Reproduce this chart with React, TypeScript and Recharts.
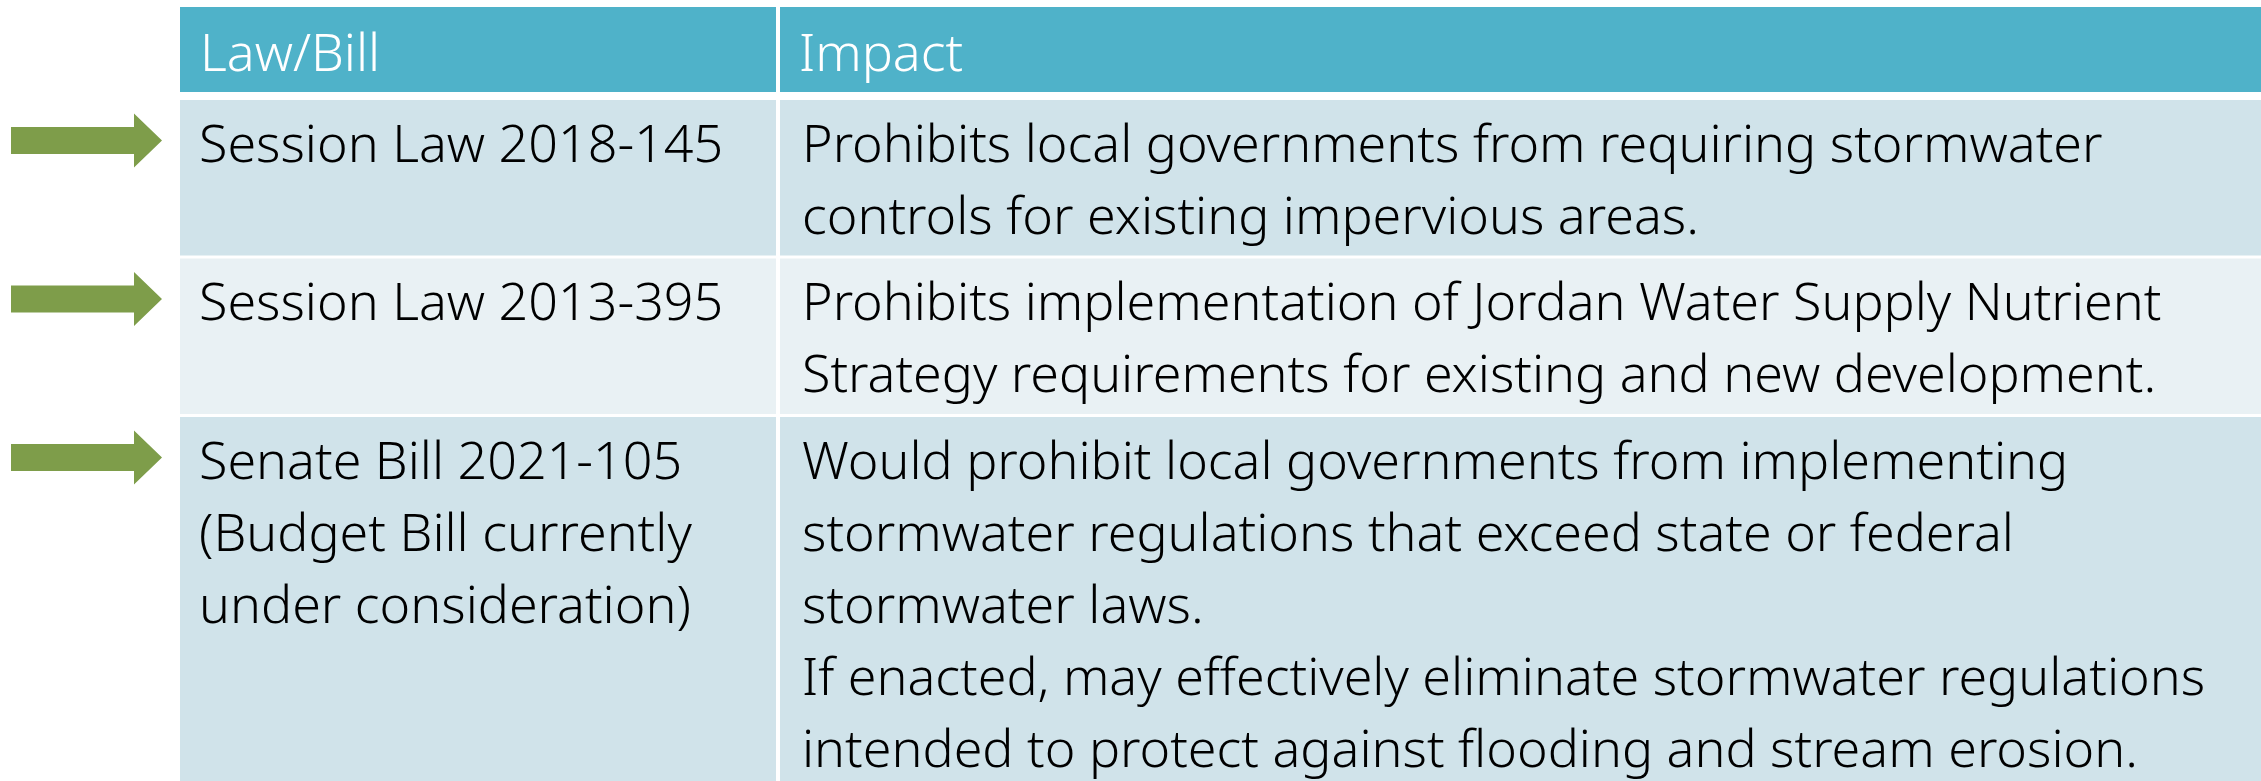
import React from 'react';
import { ComposedChart, XAxis, YAxis, ReferenceArea, Scatter } from 'recharts';

const headers = ['Law/Bill', 'Impact'];
const lawLines: string[][] = [
  ['Session Law 2018-145'],
  ['Session Law 2013-395'],
  ['Senate Bill 2021-105', '(Budget Bill currently', 'under consideration)'],
];
const impactLines: string[][] = [
  ['Prohibits local governments from requiring stormwater', 'controls for existing impervious areas.'],
  ['Prohibits implementation of Jordan Water Supply Nutrient', 'Strategy requirements for existing and new development.'],
  [
    'Would prohibit local governments from implementing',
    'stormwater regulations that exceed state or federal',
    'stormwater laws.',
    'If enacted, may effectively eliminate stormwater regulations',
    'intended to protect against flooding and stream erosion.',
  ],
];
const flagged = [true, true, true];

const W = 2261;
const H = 781;
const COL1_LEFT = 180;
const COL1_RIGHT = 776;
const COL2_LEFT = 780;
const HEADER_TOP = 7;
const HEADER_H = 85;
const HEADER_GAP = 8;
const ROW_GAP = 3;
const LINE_H = 72;
const ROW_PAD = 11.5;
const BASE_OFF = 61.5;
const HEADER_BASE = 64;
const FONT = '"Noto Sans", "Open Sans", sans-serif';
const FONT_W = 300;
const FONT_SIZE = 52;

const rows: { top: number; bottom: number; fill: string }[] = [];
{
  let y = HEADER_TOP + HEADER_H + HEADER_GAP;
  lawLines.forEach((law, i) => {
    const n = Math.max(law.length, impactLines[i].length);
    const h = n * LINE_H + ROW_PAD;
    rows.push({ top: y, bottom: Math.min(H, y + h), fill: i % 2 === 0 ? '#D0E3EA' : '#E9F1F4' });
    y += h + ROW_GAP;
  });
}

type TP = { x: number; y: number; text: string; color: string };
const textPoints: TP[] = [];
textPoints.push({ x: COL1_LEFT + 20, y: HEADER_TOP + HEADER_BASE, text: headers[0], color: '#FFFFFF' });
textPoints.push({ x: COL2_LEFT + 19, y: HEADER_TOP + HEADER_BASE, text: headers[1], color: '#FFFFFF' });
rows.forEach((r, i) => {
  lawLines[i].forEach((t, k) => textPoints.push({ x: COL1_LEFT + 19, y: r.top + BASE_OFF + k * LINE_H, text: t, color: '#000000' }));
  impactLines[i].forEach((t, k) => textPoints.push({ x: COL2_LEFT + 22, y: r.top + BASE_OFF + k * LINE_H, text: t, color: '#000000' }));
});

const arrowPoints = rows
  .map((r, i) => ({ x: 162, y: r.top + BASE_OFF - 21, on: flagged[i] }))
  .filter((p) => p.on);

const TextShape = (props: any) => {
  const { cx, cy, payload } = props;
  return (
    <text x={cx} y={cy} fill={payload.color} fontFamily={FONT} fontWeight={FONT_W} fontSize={FONT_SIZE}>
      {payload.text}
    </text>
  );
};

const ArrowShape = (props: any) => {
  const { cx, cy } = props;
  const pts = [
    [cx - 151, cy - 13.5],
    [cx - 28, cy - 13.5],
    [cx - 28, cy - 27],
    [cx, cy],
    [cx - 28, cy + 27],
    [cx - 28, cy + 13.5],
    [cx - 151, cy + 13.5],
  ]
    .map((p) => p.join(','))
    .join(' ');
  return <polygon points={pts} fill="#7E9D4A" />;
};

export default function App() {
  return (
    <div style={{ position: 'absolute', left: 0, top: 0, width: W, height: H, background: '#fff' }}>
      <ComposedChart width={W} height={H} margin={{ top: 0, right: 0, bottom: 0, left: 0 }}>
        <XAxis type="number" dataKey="x" domain={[0, W]} hide allowDataOverflow />
        <YAxis type="number" dataKey="y" domain={[0, H]} reversed hide allowDataOverflow />
        <ReferenceArea x1={COL1_LEFT} x2={COL1_RIGHT} y1={HEADER_TOP} y2={HEADER_TOP + HEADER_H} fill="#4FB2C9" fillOpacity={1} stroke="none" />
        <ReferenceArea x1={COL2_LEFT} x2={W} y1={HEADER_TOP} y2={HEADER_TOP + HEADER_H} fill="#4FB2C9" fillOpacity={1} stroke="none" />
        {rows.map((r, i) => (
          <ReferenceArea key={'a' + i} x1={COL1_LEFT} x2={COL1_RIGHT} y1={r.top} y2={r.bottom} fill={r.fill} fillOpacity={1} stroke="none" />
        ))}
        {rows.map((r, i) => (
          <ReferenceArea key={'b' + i} x1={COL2_LEFT} x2={W} y1={r.top} y2={r.bottom} fill={r.fill} fillOpacity={1} stroke="none" />
        ))}
        <Scatter data={arrowPoints} shape={ArrowShape} isAnimationActive={false} />
        <Scatter data={textPoints} shape={TextShape} isAnimationActive={false} />
      </ComposedChart>
    </div>
  );
}
